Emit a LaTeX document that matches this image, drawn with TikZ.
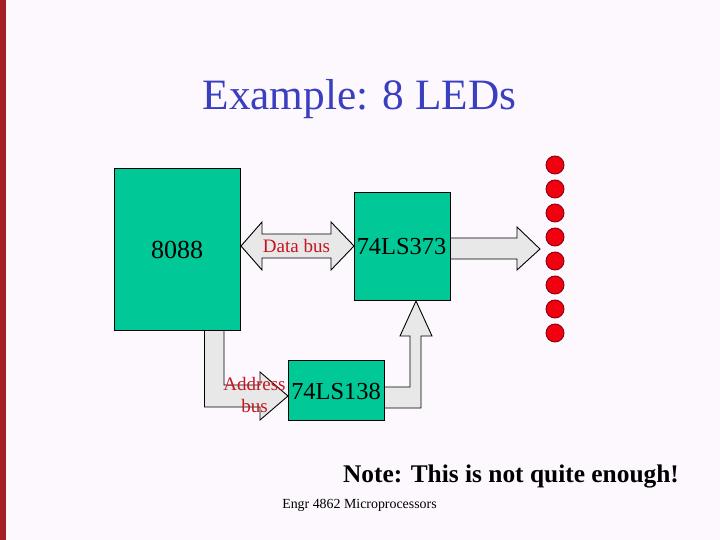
\documentclass[tikz,border=0pt]{standalone}
\usepackage{fontspec}
\setmainfont{Liberation Serif}
\definecolor{slidebg}{HTML}{FDF8FE}
\definecolor{barred}{HTML}{A31F24}
\definecolor{titleblue}{HTML}{3A3FBF}
\definecolor{chipgreen}{HTML}{00C896}
\definecolor{busgrey}{HTML}{E8E8E8}
\definecolor{labelred}{HTML}{C8141E}
\definecolor{ledred}{HTML}{F20010}
\definecolor{ledrim}{HTML}{8A0010}
\tikzset{
  x=1pt,y=-1pt,
  chip/.style={draw=black,fill=chipgreen,line width=0.9pt,inner sep=0pt,anchor=north west},
  blockarrow/.style={draw=black,fill=busgrey,line width=0.9pt,line join=miter},
  buslabel/.style={text=labelred,inner sep=0pt,align=center},
  led/.style={circle,draw=ledrim,fill=ledred,line width=0.9pt,minimum size=18pt,inner sep=0pt}
}
\begin{document}
\begin{tikzpicture}
\useasboundingbox (0,0) rectangle (720,540);
\fill[slidebg] (0,0) rectangle (720,540);
\fill[barred] (0,0) rectangle (6,540);
\node[text=titleblue,font=\fontsize{43.3}{48}\selectfont,inner sep=0pt] (title) at (359.5,99) {Example: 8 LEDs};
% block arrows
\draw[blockarrow] (450,238) -- (517,238) -- (517,227) -- (540,249) -- (517,270) -- (517,259) -- (450,259) -- cycle;
\draw[blockarrow] (384,387) -- (410,387) -- (410,336) -- (400,336) -- (416,301) -- (432,336) -- (421,336) -- (421,408) -- (384,408) -- cycle;
\draw[blockarrow] (241,246) -- (262,222) -- (262,234) -- (331,234) -- (331,222) -- (354,246) -- (331,270) -- (331,258) -- (262,258) -- (262,270) -- cycle;
\draw[blockarrow] (204.5,330) -- (204.5,407) -- (260,407) -- (260,420) -- (288,396) -- (260,372) -- (260,385) -- (224,385) -- (224,330) -- cycle;
% chips
\node[chip,minimum width=126pt,minimum height=162pt] (cpu) at (114,168) {};
\node[chip,minimum width=96pt,minimum height=108pt] (latch) at (354,192) {};
\node[chip,minimum width=96pt,minimum height=60pt] (decoder) at (288,360) {};
\node[font=\fontsize{26}{28}\selectfont,inner sep=0pt] (cpulabel) at (177,250) {8088};
\node[font=\fontsize{24.4}{28}\selectfont,inner sep=0pt] (latchlabel) at (401.5,247) {74LS373};
\node[font=\fontsize{24.4}{28}\selectfont,inner sep=0pt] (decoderlabel) at (336,391.5) {74LS138};
% bus labels
\node[buslabel,font=\fontsize{19}{22}\selectfont] (databus) at (296.5,246.5) {Data bus};
\node[buslabel,font=\fontsize{19}{22}\selectfont] (addrbus) at (254.5,395) {Address\\bus};
% LEDs
\foreach \n/\y in {1/165,2/189,3/213,4/237,5/261,6/285,7/309,8/333}
  \node[led] (led\n) at (555,\y) {};
% texts
\node[font=\bfseries\fontsize{25.4}{28}\selectfont,inner sep=0pt] (note) at (511,476) {Note: This is not quite enough!};
\node[font=\fontsize{13.9}{16}\selectfont,inner sep=0pt] (footer) at (359.5,505) {Engr 4862 Microprocessors};
\end{tikzpicture}
\end{document}
